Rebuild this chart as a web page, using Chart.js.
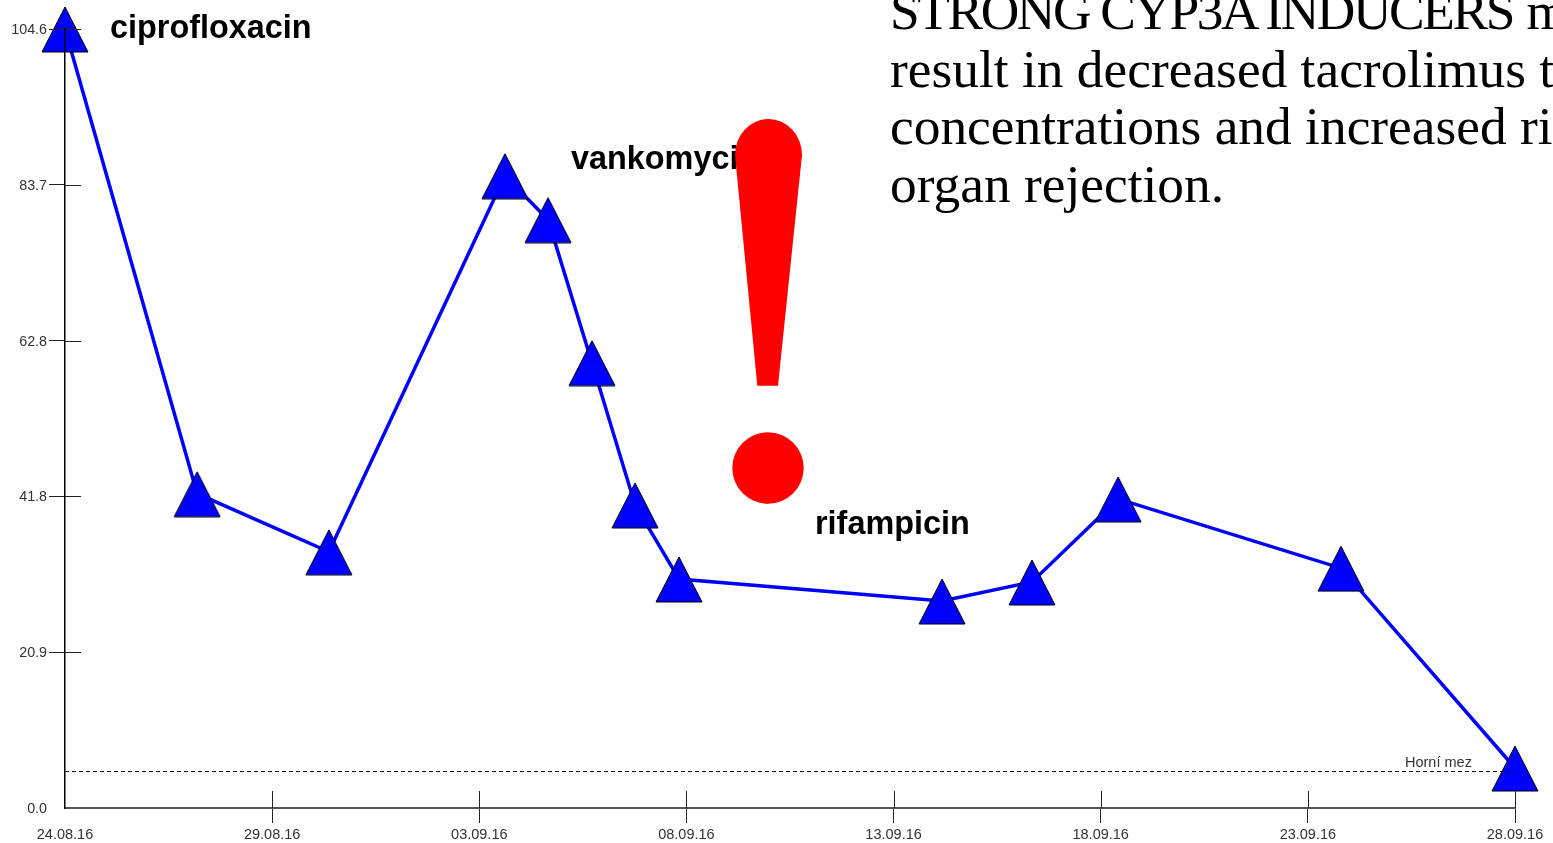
<!DOCTYPE html>
<html>
<head>
<meta charset="utf-8">
<title>Tacrolimus</title>
<script src="https://cdn.jsdelivr.net/npm/chart.js@4"></script>
<style>
html, body { margin: 0; padding: 0; background: #fff; overflow: hidden; }
#wrap { position: relative; width: 1553px; height: 843px; overflow: hidden; }
#chart { position: absolute; left: 0; top: 0; }
.drug { position: absolute; font: bold 32.4px "Liberation Sans", Arial, sans-serif; color: #000; white-space: nowrap; line-height: 36px; }
#limit { position: absolute; left: 1405px; top: 754px; font: 14.5px "Liberation Sans", Arial, sans-serif; color: #333; line-height: 16px; white-space: nowrap; }
#warning { position: absolute; left: 890px; top: -17px; font: 53.4px/57.7px "Liberation Serif", Georgia, serif; color: #000; white-space: pre; }
#warning span { letter-spacing: -2.4px; }
#mark { position: absolute; left: 0; top: 0; }
</style>
</head>
<body>
<div id="wrap">
  <canvas id="chart" width="1553" height="843"></canvas>
  <div class="drug" style="left:110px;top:9px">ciprofloxacin</div>
  <div class="drug" style="left:571px;top:140px">vankomycin</div>
  <div class="drug" style="left:815px;top:505px">rifampicin</div>
  <div id="limit">Horní mez</div>
  <div id="warning"><span>STRONG CYP3A INDUCERS</span> may
result in decreased tacrolimus trough
concentrations and increased risk of
organ rejection.</div>
  <svg id="mark" width="1553" height="843">
    <path d="M757.3 385.7 L735 155 A33.5 36 0 0 1 802 155 L778 385.7 Z" fill="#ff0000"/>
    <circle cx="768" cy="468" r="35.7" fill="#ff0000"/>
  </svg>
</div>
<script>
// days since 24.08.16
let sampleDays = [0, 3.19, 6.37, 10.62, 11.66, 12.72, 13.76, 14.82, 21.17, 23.34, 25.42, 30.8, 35]
let sampleValues = [104.6, 42.2, 34.4, 84.9, 79.0, 59.8, 40.7, 30.75, 27.8, 30.35, 41.5, 32.2, 5.37]
let limitDays = [0, 35]
let limitValues = [4.9, 4.9]
let yTicks = [0, 20.92, 41.84, 62.76, 83.68, 104.6]
let yTickLabels = ['0.0', '20.9', '41.8', '62.8', '83.7', '104.6']
let xTicks = [0, 5, 10, 15, 20, 25, 30, 35]
let xTickLabels = ['24.08.16', '29.08.16', '03.09.16', '08.09.16', '13.09.16', '18.09.16', '23.09.16', '28.09.16']

function makeTriangle() {
    let c = document.createElement('canvas')
    c.width = 48
    c.height = 48
    let g = c.getContext('2d')
    g.beginPath()
    g.moveTo(24, 2)
    g.lineTo(47, 47)
    g.lineTo(1, 47)
    g.closePath()
    g.fillStyle = '#0000ff'
    g.fill()
    g.strokeStyle = '#000'
    g.lineWidth = 1
    g.stroke()
    return c
}

function toPoints(xs, ys) {
    return xs.map((x, i) => ({ x: x, y: ys[i] }))
}

// ticks in the source cross the axis, so draw the inner half here
let innerTicks = {
    id: 'innerTicks',
    afterDraw(chart) {
        let g = chart.ctx
        let area = chart.chartArea
        g.save()
        g.strokeStyle = '#222'
        g.lineWidth = 1
        g.beginPath()
        yTicks.slice(1).forEach(v => {
            let y = Math.round(chart.scales.y.getPixelForValue(v)) + 0.5
            g.moveTo(area.left, y)
            g.lineTo(area.left + 16, y)
        })
        xTicks.slice(1).forEach(v => {
            let x = Math.round(chart.scales.x.getPixelForValue(v)) + 0.5
            g.moveTo(x, area.bottom)
            g.lineTo(x, area.bottom - 17)
        })
        g.stroke()
        g.restore()
    }
}

let ctx = document.getElementById('chart').getContext('2d')
let hideFirst = c => c.index === 0 ? 'rgba(0,0,0,0)' : '#222'

let chart = new Chart(ctx, {
    type: 'line',
    data: {
        datasets: [{
            label: 'Horní mez',
            data: toPoints(limitDays, limitValues),
            borderColor: '#000',
            borderWidth: 1,
            borderDash: [4, 3],
            pointRadius: 0,
            clip: false
        }, {
            label: 'tacrolimus',
            data: toPoints(sampleDays, sampleValues),
            borderColor: '#0000ff',
            borderWidth: 3.5,
            tension: 0,
            pointStyle: makeTriangle(),
            clip: false
        }]
    },
    options: {
        responsive: false,
        animation: false,
        layout: { padding: { top: 29, right: 38, left: 0, bottom: 0 } },
        plugins: { legend: { display: false }, tooltip: { enabled: false } },
        scales: {
            x: {
                type: 'linear',
                min: 0,
                max: 35,
                afterFit: s => { s.height = 35 },
                afterBuildTicks: s => { s.ticks = xTicks.map(v => ({ value: v })) },
                border: { color: '#555', width: 2, z: 1 },
                grid: { drawOnChartArea: false, tickLength: 15, color: hideFirst, z: 1 },
                ticks: {
                    autoSkip: false,
                    maxRotation: 0,
                    padding: 3,
                    color: '#333',
                    font: { family: '"Liberation Sans", Arial, sans-serif', size: 14.5 },
                    callback: (v, i) => xTickLabels[i]
                }
            },
            y: {
                type: 'linear',
                min: 0,
                max: 104.6,
                afterFit: s => { s.width = 65 },
                afterBuildTicks: s => { s.ticks = yTicks.map(v => ({ value: v })) },
                border: { color: '#000', width: 1.5, z: 1 },
                grid: { drawOnChartArea: false, tickLength: 16, color: hideFirst, z: 1 },
                ticks: {
                    autoSkip: false,
                    padding: 2,
                    labelOffset: 1,
                    color: '#333',
                    font: { family: '"Liberation Sans", Arial, sans-serif', size: 14.3 },
                    callback: (v, i) => yTickLabels[i]
                }
            }
        }
    },
    plugins: [innerTicks]
})
</script>
</body>
</html>
